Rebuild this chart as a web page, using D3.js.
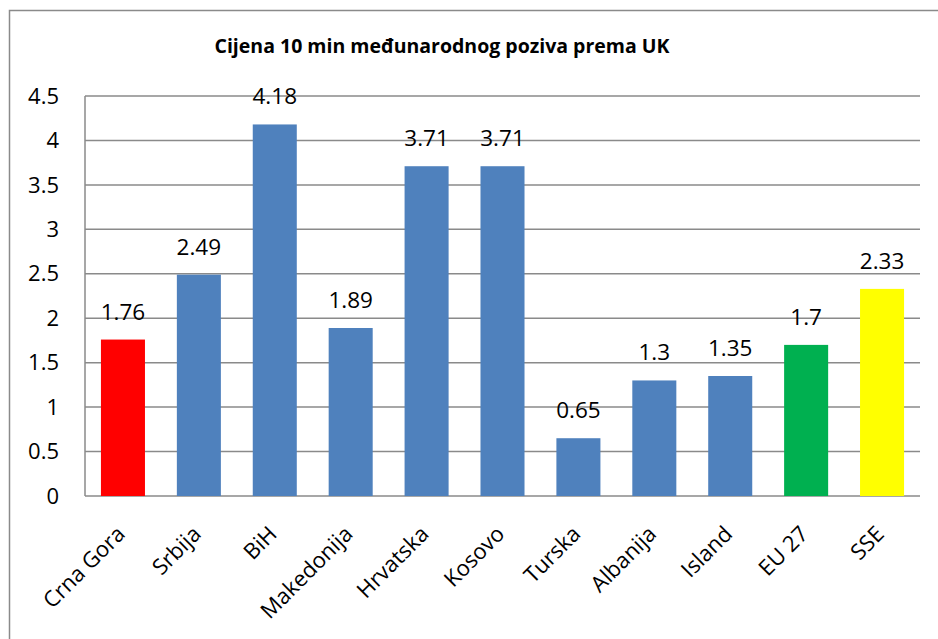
<!DOCTYPE html>
<html>
<head>
<meta charset="utf-8">
<script src="https://cdn.jsdelivr.net/npm/d3@7"></script>
<style>
  body { margin: 0; background: #fff; }
  svg text { font-family: "Open Sans", "Noto Sans", sans-serif; fill: #000; }
</style>
</head>
<body>
<div id="vis"><svg></svg></div>
<script>
// chart data
const categories = ["Crna Gora", "Srbija", "BiH", "Makedonija", "Hrvatska", "Kosovo", "Turska", "Albanija", "Island", "EU 27", "SSE"];
const prices = [1.76, 2.49, 4.18, 1.89, 3.71, 3.71, 0.65, 1.3, 1.35, 1.7, 2.33];
const barColors = ["#FF0000", "#4F81BD", "#4F81BD", "#4F81BD", "#4F81BD", "#4F81BD", "#4F81BD", "#4F81BD", "#4F81BD", "#00B050", "#FFFF00"];
const yTicks = [0, 0.5, 1, 1.5, 2, 2.5, 3, 3.5, 4, 4.5];
const title = "Cijena 10 min međunarodnog poziva prema UK";

const w = 938, h = 639;
const margin = {top: 96, right: 18, bottom: 143, left: 85};
const width = w - margin.left - margin.right;
const height = h - margin.top - margin.bottom;

const svg = d3.select("#vis").select("svg")
  .attr("width", w)
  .attr("height", h);

// outer chart frame (runs off the right and bottom edges)
svg.append("rect")
  .attr("x", 9.5).attr("y", 10.5)
  .attr("width", w + 20).attr("height", h + 20)
  .attr("fill", "none")
  .attr("stroke", "#8a8a8a")
  .attr("stroke-width", 1.5);

svg.append("text")
  .attr("x", 442).attr("y", 53)
  .attr("text-anchor", "middle")
  .style("font-weight", 700)
  .style("font-size", "19.5px")
  .text(title);

const x = d3.scaleBand().domain(categories).range([0, width]).paddingInner(0.42).paddingOuter(0.21);
const y = d3.scaleLinear().domain([0, 4.5]).range([height, 0]);

const g = svg.append("g").attr("transform", `translate(${margin.left},${margin.top})`);

// gridlines
g.selectAll(".gridline")
  .data(yTicks)
  .enter().append("line")
    .attr("class", "gridline")
    .attr("x1", 0).attr("x2", width)
    .attr("y1", d => y(d)).attr("y2", d => y(d))
    .attr("stroke", "#8a8a8a")
    .attr("stroke-width", 1.5);

// y axis line + labels
g.append("line")
  .attr("x1", 0).attr("x2", 0)
  .attr("y1", y(4.5)).attr("y2", y(0))
  .attr("stroke", "#8a8a8a")
  .attr("stroke-width", 1.5);

g.selectAll(".ytick")
  .data(yTicks)
  .enter().append("text")
    .attr("class", "ytick")
    .attr("x", -26)
    .attr("y", d => y(d))
    .attr("dy", "0.35em")
    .attr("text-anchor", "end")
    .style("font-size", "22px")
    .text(d => d);

// bars
g.selectAll(".bar")
  .data(prices)
  .enter().append("rect")
    .attr("class", "bar")
    .attr("x", (d, i) => x(categories[i]))
    .attr("y", d => y(d))
    .attr("width", x.bandwidth())
    .attr("height", d => height - y(d))
    .attr("fill", (d, i) => barColors[i]);

// value labels
g.selectAll(".value")
  .data(prices)
  .enter().append("text")
    .attr("class", "value")
    .attr("x", (d, i) => x(categories[i]) + x.bandwidth() / 2)
    .attr("y", d => y(d) - 20)
    .attr("text-anchor", "middle")
    .style("font-size", "22.5px")
    .text(d => d);

// category labels
g.selectAll(".xlabel")
  .data(categories)
  .enter().append("text")
    .attr("class", "xlabel")
    .attr("transform", d => `translate(${x(d) + x.bandwidth() / 2 - 2},${height + 34}) rotate(-45)`)
    .attr("text-anchor", "end")
    .attr("dy", "0.35em")
    .style("font-size", "22px")
    .text(d => d);
</script>
</body>
</html>
